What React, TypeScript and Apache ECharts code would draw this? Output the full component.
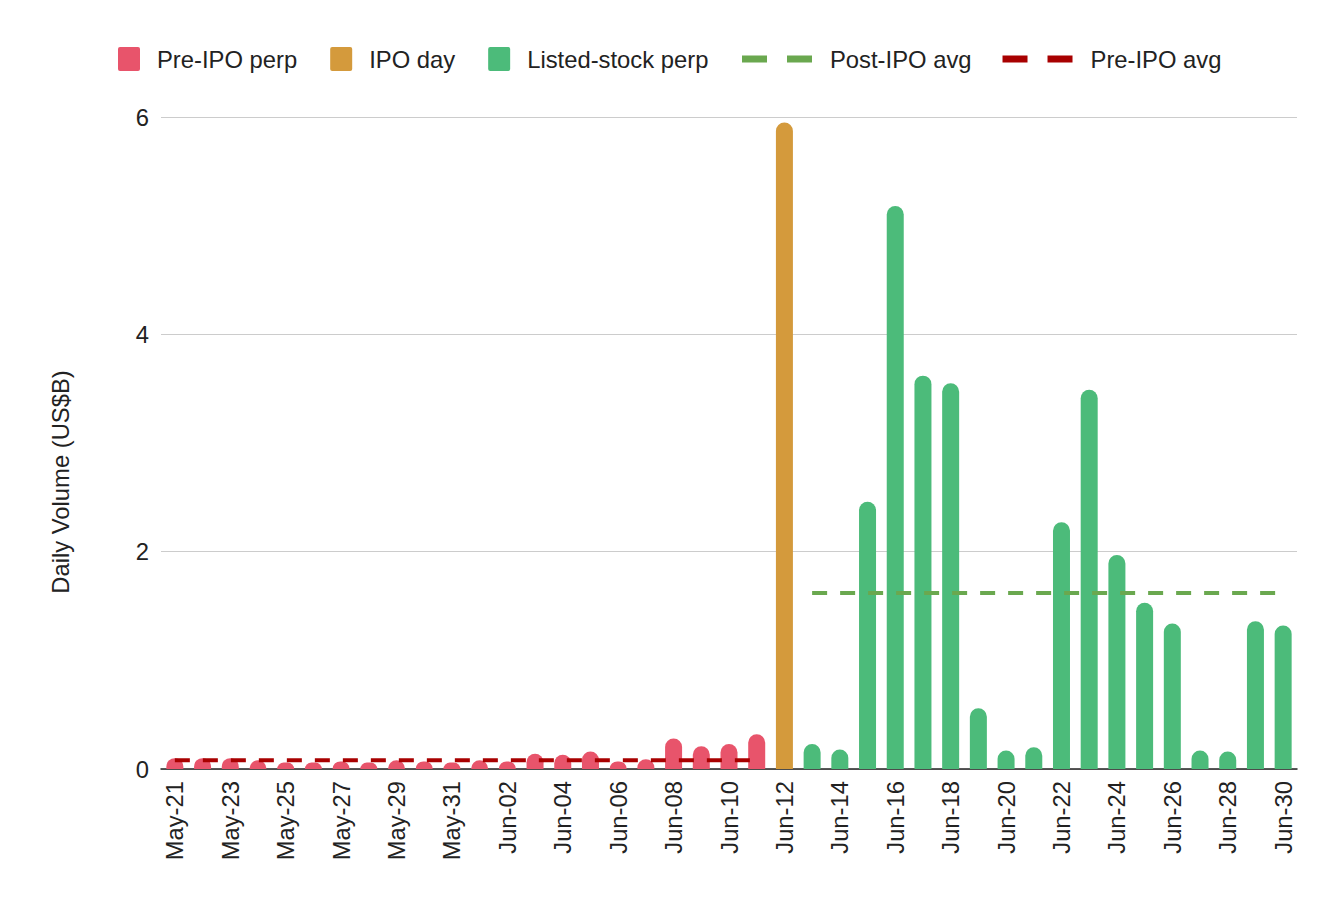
import React, { useEffect, useRef } from "react";
import * as echarts from "echarts";

const mayDays = ["May-21", "May-22", "May-23", "May-24", "May-25", "May-26", "May-27", "May-28", "May-29", "May-30", "May-31"];
const junDays = [
  "Jun-01", "Jun-02", "Jun-03", "Jun-04", "Jun-05", "Jun-06", "Jun-07", "Jun-08", "Jun-09", "Jun-10",
  "Jun-11", "Jun-12", "Jun-13", "Jun-14", "Jun-15", "Jun-16", "Jun-17", "Jun-18", "Jun-19", "Jun-20",
  "Jun-21", "Jun-22", "Jun-23", "Jun-24", "Jun-25", "Jun-26", "Jun-27", "Jun-28", "Jun-29", "Jun-30",
];
const categories = [...mayDays, ...junDays];

// Pre-IPO perp: May-21 .. Jun-11
const preIpoPerp = [0.10, 0.10, 0.10, 0.08, 0.06, 0.06, 0.07, 0.06, 0.08, 0.07, 0.06, 0.08, 0.07, 0.14, 0.13, 0.16, 0.07, 0.09, 0.28, 0.21, 0.23, 0.32];
// IPO day: Jun-12
const ipoDay = [5.95];
// Listed-stock perp: Jun-13 .. Jun-30
const listedPerp = [0.23, 0.18, 2.46, 5.18, 3.62, 3.55, 0.56, 0.17, 0.20, 2.27, 3.49, 1.97, 1.53, 1.34, 0.17, 0.16, 1.36, 1.32];
const postIpoAvg = 1.62;
const preIpoAvg = 0.08;
const yTicks = [0, 2, 4, 6];

const FONT = "'Liberation Sans', Arial, sans-serif";
const FS = 23.8;

export default function App() {
  const ref = useRef<HTMLDivElement>(null);
  useEffect(() => {
    if (!ref.current) return;
    const chart = echarts.init(ref.current, undefined, { renderer: "svg" });
    const ipoIdx = preIpoPerp.length;
    const listedStart = ipoIdx + ipoDay.length;

    const preData = categories.map((_, i) => (i < ipoIdx ? preIpoPerp[i] : null));
    const ipoData = categories.map((_, i) => (i >= ipoIdx && i < listedStart ? ipoDay[i - ipoIdx] : null));
    const listedData = categories.map((_, i) => (i >= listedStart ? listedPerp[i - listedStart] : null));
    const preAvgData = categories.map((_, i) => (i < ipoIdx ? preIpoAvg : null));
    const postAvgData = categories.map((_, i) => (i >= listedStart ? postIpoAvg : null));

    const radius = [8.5, 8.5, 0, 0];

    chart.setOption({
      animation: false,
      textStyle: { fontFamily: FONT },
      grid: { left: 161, right: 41, top: 117, bottom: 137, containLabel: false },
      legend: [
        {
          left: 118,
          top: 47,
          padding: 0,
          itemWidth: 22,
          itemHeight: 24,
          itemGap: 33,
          icon: "path://M2,0H20Q22,0 22,2V22Q22,24 20,24H2Q0,24 0,22V2Q0,0 2,0Z",
          symbolKeepAspect: false,
          data: ["Pre-IPO perp", "IPO day", "Listed-stock perp"],
          textStyle: { fontSize: FS, color: "#222", fontFamily: FONT, padding: [0, 0, 0, 12] },
          itemStyle: { borderWidth: 0 },
        },
        {
          left: 742,
          top: 47,
          padding: 0,
          itemWidth: 70,
          itemHeight: 7,
          itemGap: 31,
          icon: "path://M0,0H25V7H0Z M45,0H70V7H45Z",
          symbolKeepAspect: false,
          data: ["Post-IPO avg", "Pre-IPO avg"],
          textStyle: { fontSize: FS, color: "#222", fontFamily: FONT, padding: [0, 0, 0, 13] },
          itemStyle: { borderWidth: 0 },
          lineStyle: { width: 0 },
        },
      ],
      xAxis: {
        type: "category",
        data: categories,
        boundaryGap: true,
        axisLine: { show: true, lineStyle: { color: "#222", width: 1.5 } },
        axisTick: { show: false },
        axisLabel: {
          rotate: 90,
          interval: 1,
          fontSize: FS,
          color: "#222",
          fontFamily: FONT,
          margin: 12,
        },
      },
      yAxis: {
        type: "value",
        min: yTicks[0],
        max: yTicks[yTicks.length - 1],
        interval: 2,
        axisLine: { show: false },
        axisTick: { show: false },
        splitLine: { lineStyle: { color: "#cccccc", width: 1 } },
        axisLabel: { fontSize: FS, color: "#222", fontFamily: FONT, margin: 12 },
      },
      graphic: [
        {
          type: "text",
          x: 48,
          y: 482,
          rotation: Math.PI / 2,
          style: {
            text: "Daily Volume (US$B)",
            fontSize: FS,
            fontFamily: FONT,
            fill: "#222",
            align: "center",
            verticalAlign: "top",
          },
        },
      ],
      series: [
        { type: "bar", stack: "vol", barWidth: 17, name: "Pre-IPO perp", data: preData, color: "#e8546b", itemStyle: { borderRadius: radius, color: "#e8546b" } },
        { type: "bar", stack: "vol", barWidth: 17, name: "IPO day", data: ipoData, color: "#d49a3c", itemStyle: { borderRadius: radius, color: "#d49a3c" } },
        { type: "bar", stack: "vol", barWidth: 17, name: "Listed-stock perp", data: listedData, color: "#4cbb7a", itemStyle: { borderRadius: radius, color: "#4cbb7a" } },
        {
          type: "line",
          name: "Post-IPO avg",
          data: postAvgData,
          color: "#6aa84f",
          showSymbol: false,
          symbol: "none",
          itemStyle: { color: "#6aa84f" },
          lineStyle: { color: "#6aa84f", width: 4, type: [15, 13] },
          z: 5,
        },
        {
          type: "line",
          name: "Pre-IPO avg",
          data: preAvgData,
          color: "#a80000",
          showSymbol: false,
          symbol: "none",
          itemStyle: { color: "#a80000" },
          lineStyle: { color: "#a80000", width: 4, type: [15, 13] },
          z: 5,
        },
      ],
    });
    return () => chart.dispose();
  }, []);
  return <div ref={ref} style={{ width: 1338, height: 906, position: "absolute", left: 0, top: 0 }} />;
}
